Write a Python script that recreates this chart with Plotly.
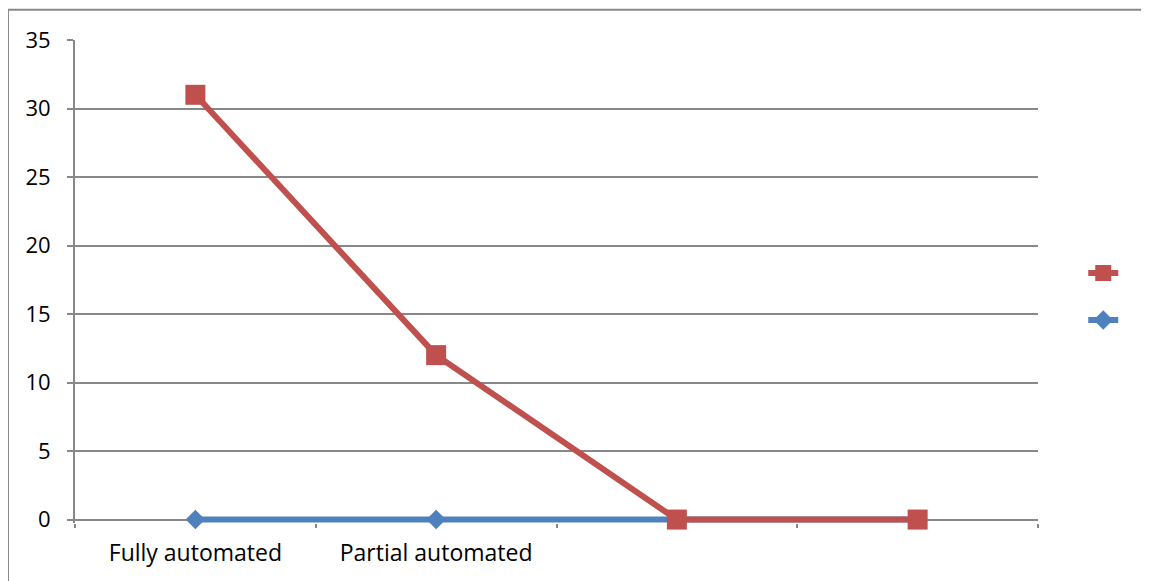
import plotly.graph_objects as go

categories = ["Fully automated", "Partial automated", " ", "  "]
series_red = [31, 12, 0, 0]
series_blue = [0, 0, 0, 0]
y_ticks = [0, 5, 10, 15, 20, 25, 30, 35]

RED = "#C0504D"
BLUE = "#4F81BD"
GRID = "#888888"
FONT = "Open Sans"

fig = go.Figure()
fig.add_trace(go.Scatter(
    x=categories, y=series_blue, mode="lines+markers", name=" ",
    line=dict(color=BLUE, width=6),
    marker=dict(symbol="diamond", size=15, color=BLUE),
    legendgroup="b", legendrank=2, cliponaxis=False,
))
fig.add_trace(go.Scatter(
    x=categories, y=series_red, mode="lines+markers", name=" ",
    line=dict(color=RED, width=6),
    marker=dict(symbol="square", size=20, color=RED),
    legendgroup="r", legendrank=1, cliponaxis=False,
))

fig.update_layout(
    width=1141, height=573,
    margin=dict(l=67, r=111, t=32, b=58),
    paper_bgcolor="white", plot_bgcolor="white",
    font=dict(family=FONT, size=22, color="black"),
    showlegend=True,
    legend=dict(x=1.047, y=0.554, xanchor="left", yanchor="top",
                traceorder="grouped", tracegroupgap=22,
                font=dict(size=17), bgcolor="rgba(0,0,0,0)"),
    xaxis=dict(
        type="category", categoryorder="array", categoryarray=categories,
        range=[-0.5, 3.5], showgrid=False, zeroline=False,
        showline=False,
        ticks="outside", tickson="boundaries", ticklen=4, tickwidth=2,
        tickcolor=GRID, ticklabelstandoff=14,
        tickfont=dict(family=FONT, size=23),
    ),
    yaxis=dict(
        range=[-0.25, 35], tickvals=y_ticks, showgrid=True, gridcolor=GRID,
        gridwidth=2, zeroline=True, zerolinecolor=GRID, zerolinewidth=2,
        showline=True, linecolor=GRID,
        linewidth=2, ticks="outside", ticklen=6, tickwidth=2, tickcolor=GRID,
        ticklabelstandoff=12, tickfont=dict(family=FONT, size=22),
    ),
    shapes=[dict(
        type="rect", xref="paper", yref="paper",
        x0=-0.0696, x1=1.125, y0=-0.16, y1=1.0625,
        line=dict(color=GRID, width=2), layer="below",
    )],
)

fig.write_html("out.html")
